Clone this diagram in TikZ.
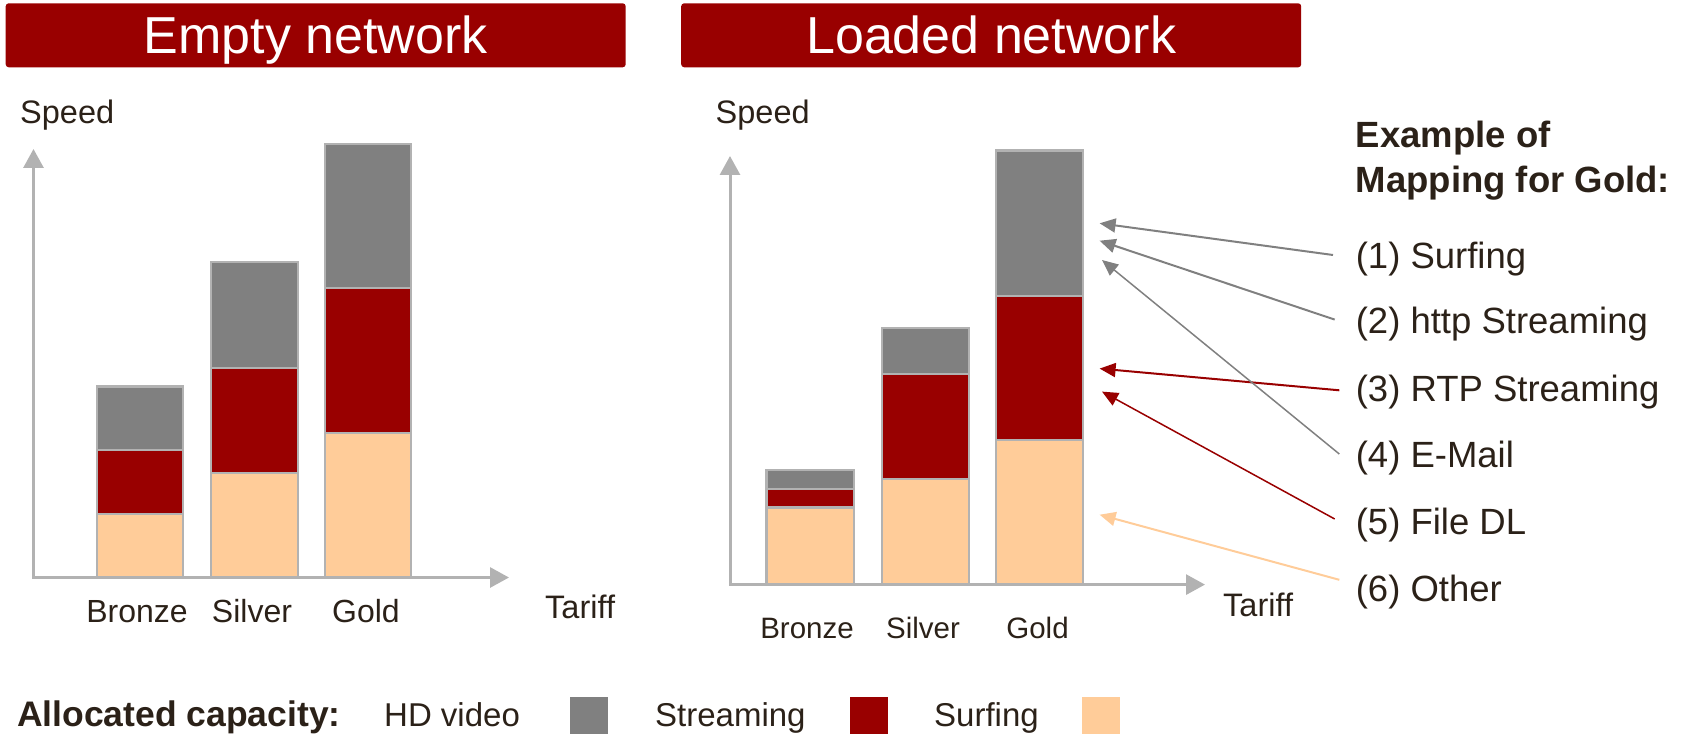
\documentclass[tikz,border=0pt]{standalone}
\usepackage{fontspec}
\setmainfont{Liberation Sans}
\usetikzlibrary{arrows.meta}

\definecolor{darkred}{HTML}{990000}
\definecolor{hdgray}{HTML}{808080}
\definecolor{peach}{HTML}{FFCC99}
\definecolor{axisgray}{HTML}{B2B2B2}
\definecolor{ink}{HTML}{2B2118}

% one stacked bar: x-left, x-right, top, grey/red edge, red/peach edge, base
\newcommand\stackbar[6]{%
  \fill[hdgray]  (#1,#3) rectangle (#2,#4);
  \fill[darkred] (#1,#4) rectangle (#2,#5);
  \fill[peach]   (#1,#5) rectangle (#2,#6);
  \draw[barline] (#1,#4) -- (#2,#4) (#1,#5) -- (#2,#5);
  \draw[barline] (#1,#6) rectangle (#2,#3);
}

\begin{document}
\begin{tikzpicture}[x=1pt,y=-1pt,
  titlebox/.style={fill=darkred, rounded corners=3pt, text=white, inner sep=0pt,
    minimum width=620pt, minimum height=64pt, text height=37pt, text depth=0pt,
    font=\fontsize{52}{60}\selectfont},
  lab/.style={text=ink, inner sep=0pt, font=\fontsize{32.5}{38}\selectfont},
  tierlab/.style={text=ink, inner sep=0pt, anchor=base, font=\fontsize{32}{38}\selectfont},
  tierlabsm/.style={text=ink, inner sep=0pt, anchor=base, font=\fontsize{29.5}{35}\selectfont},
  maphead/.style={text=ink, inner sep=0pt, anchor=base west, font=\fontsize{36.5}{42}\selectfont\bfseries},
  mapitem/.style={text=ink, inner sep=0pt, anchor=base west, font=\fontsize{36.5}{42}\selectfont},
  legtext/.style={text=ink, inner sep=0pt, anchor=base west, font=\fontsize{33}{38}\selectfont},
  legbox/.style={inner sep=0pt, minimum width=38pt, minimum height=37pt},
  axis/.style={draw=axisgray, line width=3pt, {Triangle[length=19pt,width=20pt]}-{Triangle[length=19pt,width=20pt]}},
  barline/.style={draw=axisgray, line width=2.2pt},
  maparrow/.style={line width=2pt, -{Triangle[length=16pt,width=14pt]}},
]
\useasboundingbox (0,0) rectangle (1684,735);

% ---------- headers ----------
\node[titlebox] (hEmpty)  at (315.7,35.3) {Empty network};
\node[titlebox] (hLoaded) at (991.2,35.3) {Loaded network};

% ---------- empty network chart ----------
\node[lab, anchor=base west] (speedA) at (20,124) {Speed};
\coordinate (yTopA) at (33.5,149);
\coordinate (origA) at (33.5,577.5);
\coordinate (xEndA) at (509,577.5);
\stackbar{97}{183}{386.4}{450}{514}{577.5}
\stackbar{211}{298}{262.4}{367.7}{472.6}{577.5}
\stackbar{325}{411}{143.9}{288}{433}{577.5}
\draw[axis] (yTopA) -- (origA) -- (xEndA);
\node[tierlab] (bronzeA) at (137,622) {Bronze};
\node[tierlab] (silverA) at (252,622) {Silver};
\node[tierlab] (goldA)   at (366,622) {Gold};
\node[lab, anchor=base west] (tariffA) at (545,618.6) {Tariff};

% ---------- loaded network chart ----------
\node[lab, anchor=base west] (speedB) at (715.5,123.6) {Speed};
\coordinate (yTopB) at (730,156);
\coordinate (origB) at (730,584.6);
\coordinate (xEndB) at (1205,584.6);
\stackbar{766.5}{854}{469.6}{488.7}{507.4}{584.6}
\stackbar{882}{969}{328}{374}{479}{584.6}
\stackbar{995.7}{1082.6}{150.5}{295.7}{440}{584.6}
\draw[axis] (yTopB) -- (origB) -- (xEndB);
\node[tierlabsm] (bronzeB) at (807,638) {Bronze};
\node[tierlabsm] (silverB) at (923,638) {Silver};
\node[tierlabsm] (goldB)   at (1037.5,638) {Gold};
\node[lab, anchor=base west] (tariffB) at (1223,616.6) {Tariff};

% ---------- mapping for gold ----------
\node[maphead] (exA) at (1355.6,147.4) {Example of};
\node[maphead] (exB) at (1355.6,193) {Mapping for Gold:};
\node[mapitem] (m1) at (1355.6,269)   {(1) Surfing};
\node[mapitem] (m2) at (1355.6,334)   {(2) http Streaming};
\node[mapitem] (m3) at (1355.6,401)   {(3) RTP Streaming};
\node[mapitem] (m4) at (1355.6,467.5) {(4) E-Mail};
\node[mapitem] (m5) at (1355.6,534)   {(5) File DL};
\node[mapitem] (m6) at (1355.6,601.5) {(6) Other};

\coordinate (s1) at (1333,255);   \coordinate (e1) at (1099.6,223.3);
\coordinate (s2) at (1334.7,319.6); \coordinate (e2) at (1099.6,240.7);
\coordinate (s3) at (1339.3,390.3); \coordinate (e3) at (1099.6,368.6);
\coordinate (s4) at (1339.3,454);   \coordinate (e4) at (1102,260);
\coordinate (s5) at (1334.7,519);   \coordinate (e5) at (1102,391.6);
\coordinate (s6) at (1339.3,579.8); \coordinate (e6) at (1099.6,514.7);

\draw[maparrow, hdgray]  (s1) -- (e1);
\draw[maparrow, hdgray]  (s2) -- (e2);
\draw[maparrow, darkred] (s3) -- (e3);
\draw[maparrow, hdgray, line width=1.5pt]  (s4) -- (e4);
\draw[maparrow, darkred, line width=1.5pt] (s5) -- (e5);
\draw[maparrow, peach]   (s6) -- (e6);

% ---------- legend ----------
\node[legtext, font=\fontsize{35.5}{40}\selectfont\bfseries] (legHead) at (17,726) {Allocated capacity:};
\node[legtext] (legHD) at (384,726) {HD video};
\node[legbox, fill=hdgray, anchor=north west] (boxHD) at (570,697) {};
\node[legtext] (legST) at (655,726) {Streaming};
\node[legbox, fill=darkred, anchor=north west] (boxST) at (849.5,697) {};
\node[legtext] (legSU) at (934,726) {Surfing};
\node[legbox, fill=peach, anchor=north west] (boxSU) at (1082,697) {};
\end{tikzpicture}
\end{document}
